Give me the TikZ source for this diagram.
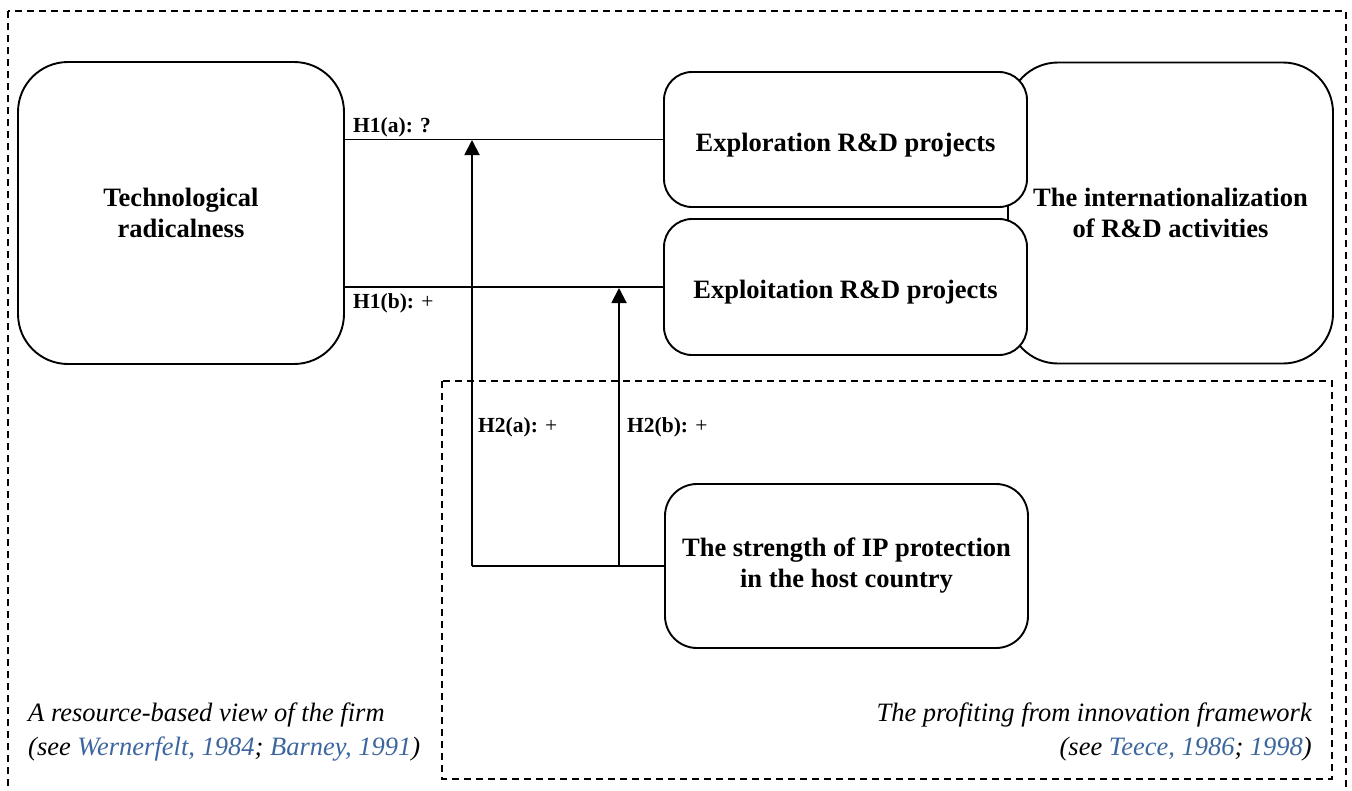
\documentclass[tikz,border=0pt]{standalone}
\usepackage{fontspec}
\setmainfont{Liberation Serif}
\usetikzlibrary{arrows.meta}
\definecolor{citeblue}{RGB}{62,102,158}
\begin{document}
\begin{tikzpicture}[x=1pt,y=-1pt,
  box/.style={draw, line width=1.9pt, fill=white, rounded corners=#1,
    font=\bfseries\fontsize{26.5}{31}\selectfont, align=center, inner sep=0pt},
  box/.default=28pt,
  oneline/.style={text height=30pt, text depth=7pt},
  frame/.style={draw, line width=1.5pt, dash pattern=on 7pt off 5pt},
  conn/.style={draw, line width=1.9pt},
  arr/.style={conn, -{Triangle[length=15pt,width=15pt]}},
  lbl/.style={font=\bfseries\fontsize{21.5}{26}\selectfont, inner sep=0pt, anchor=base west},
  note/.style={font=\itshape\fontsize{26.5}{34}\selectfont, inner sep=0pt}]
\useasboundingbox (0,0) rectangle (1352,790);
% dashed frames
\draw[frame] (8,11) rectangle (1346,810);
\draw[frame] (442,381) rectangle (1332,779);
% boxes
\node[box=50pt, minimum width=325pt, minimum height=301pt] (intl) at (1170.5,213)
  {The internationalization\\of R\&D activities};
\node[box, oneline, minimum width=363pt, minimum height=135pt] (expl) at (845.5,139.5)
  {Exploration R\&D projects};
\node[box, oneline, minimum width=363pt, minimum height=136pt] (exploit) at (845.5,287)
  {Exploitation R\&D projects};
\node[box=50pt, minimum width=326pt, minimum height=302pt] (tech) at (181,213)
  {Technological\\radicalness};
\node[box=32pt, minimum width=363pt, minimum height=164pt] (ip) at (846.5,566)
  {The strength of IP protection\\in the host country};
% connectors
\draw[conn] (expl.west) -- (expl.west -| tech.east);
\draw[conn] (exploit.west) -- (exploit.west -| tech.east);
\coordinate (ja) at (472,140);
\coordinate (jb) at (619,288);
\draw[conn] (ip.west) -- (ip.west -| ja);
\draw[arr] (ip.west -| ja) -- (ja);
\draw[arr] (ip.west -| jb) -- (jb);
% labels
\node[lbl] (h1a) at (353,132) {H1(a): ?};
\node[lbl] (h1b) at (353,308) {H1(b): \mdseries+};
\node[lbl] (h2a) at (478,432) {H2(a): \mdseries+};
\node[lbl] (h2b) at (627,432) {H2(b): \mdseries+};
% theory notes
\node[note, anchor=west, align=left] (rbv) at (28,732)
  {A resource-based view of the firm\\(see \textcolor{citeblue}{Wernerfelt, 1984}; \textcolor{citeblue}{Barney, 1991})};
\node[note, anchor=east, align=right] (pfi) at (1312,732)
  {The profiting from innovation framework\\(see \textcolor{citeblue}{Teece, 1986}; \textcolor{citeblue}{1998})};
\end{tikzpicture}
\end{document}
